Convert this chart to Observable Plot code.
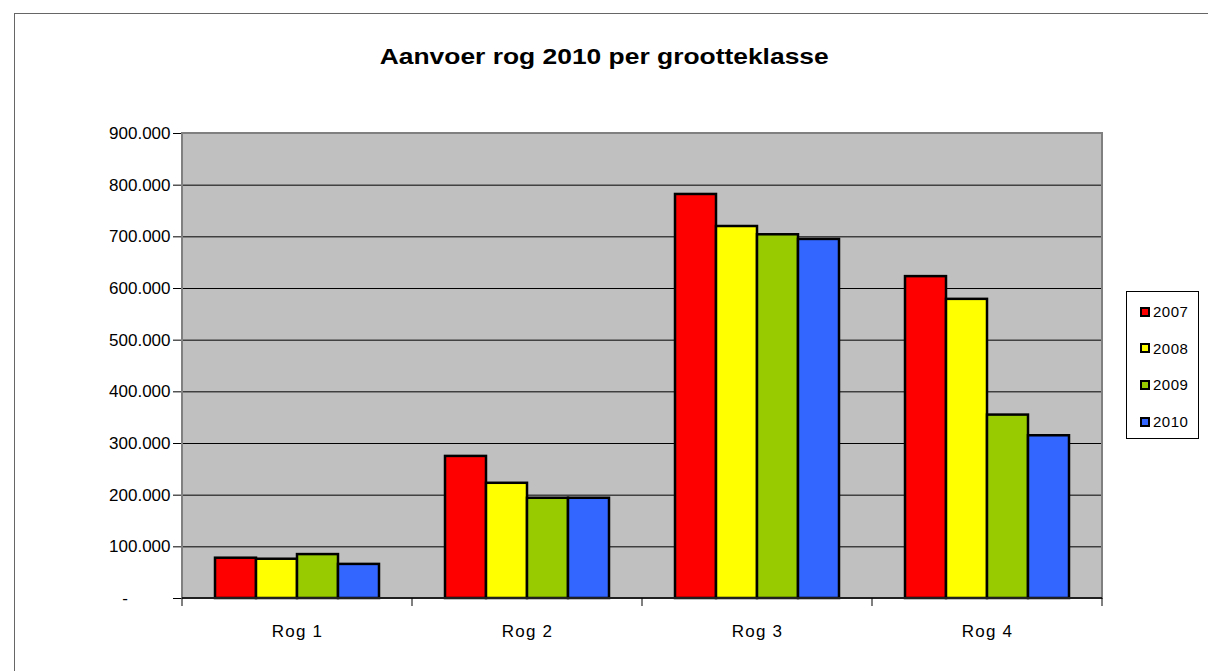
<!DOCTYPE html>
<html>
<head>
<meta charset="utf-8">
<script src="https://cdn.jsdelivr.net/npm/d3@7"></script>
<script src="https://cdn.jsdelivr.net/npm/@observablehq/plot@0.6"></script>
<style>
  html, body { margin: 0; padding: 0; background: #fff; }
  #wrap { position: relative; width: 1208px; height: 671px; overflow: hidden; font-family: Arial, "Liberation Sans", sans-serif; }
  #outer { position: absolute; left: 14px; top: 13px; width: 1300px; height: 800px; border-left: 1px solid #666; border-top: 1px solid #666; }
  #title { position: absolute; left: 0; width: 1208px; top: 44px; text-align: center; font-weight: bold; font-size: 22px; color: #000; transform: scaleX(1.2); transform-origin: 603px 0; }
  #chart { position: absolute; left: 0; top: 0; }
  #legend { position: absolute; left: 1126px; top: 291px; width: 73px; height: 148px; border: 1px solid #000; background: #fff; box-sizing: border-box; }
  .item { position: absolute; left: 13px; font-size: 15px; line-height: 15px; color: #000; display: flex; align-items: center; letter-spacing: 0.5px; }
  .sw { width: 6px; height: 6px; border: 2px solid #000; margin-right: 3px; }
  g[aria-label="fx-axis tick label"] text { letter-spacing: 1.2px; font-size: 17px; }
  g[aria-label="y-axis tick label"] text { font-size: 17px; }
</style>
</head>
<body>
<div id="wrap">
  <div id="outer"></div>
  <div id="chart"></div>
  <div id="title">Aanvoer rog 2010 per grootteklasse</div>
  <div id="legend"></div>
</div>
<script>
const categories = ["Rog 1", "Rog 2", "Rog 3", "Rog 4"];
const years = ["2007", "2008", "2009", "2010"];
const colors = ["#ff0000", "#ffff00", "#99cc00", "#3366ff"];
const values2007 = [78000, 275000, 782000, 623000];
const values2008 = [76000, 223000, 720000, 579000];
const values2009 = [85000, 194000, 704000, 355000];
const values2010 = [66000, 194000, 695000, 315000];
const yTicks = [0, 100000, 200000, 300000, 400000, 500000, 600000, 700000, 800000, 900000];

const series = [values2007, values2008, values2009, values2010];
const data = [];
categories.forEach((c, i) => years.forEach((y, j) => data.push({cat: c, year: y, value: series[j][i]})));

const fmt = d => d === 0 ? "-\u2007\u2007\u2007\u2007\u2008" : d3.format(",")(d).replace(/,/g, ".");

const plot = Plot.plot({
  width: 1208,
  height: 671,
  marginLeft: 182,
  marginRight: 106,
  marginTop: 133,
  marginBottom: 73,
  style: {fontFamily: "Arial, 'Liberation Sans', sans-serif", fontSize: "16px", color: "#000", background: "transparent"},
  fx: {domain: categories, padding: 0, label: null},
  x: {domain: years, axis: null, paddingInner: 0, paddingOuter: 0.79},
  y: {domain: [0, 900000], label: null},
  color: {domain: years, range: colors},
  marks: [
    Plot.gridY(yTicks, {stroke: "#000", strokeOpacity: 1, strokeWidth: 1}),
    Plot.barY(data, {fx: "cat", x: "year", y: "value", fill: "year", stroke: "#000", strokeWidth: 2.5}),
    Plot.axisY(yTicks, {tickSize: 9, tickPadding: 3, tickFormat: fmt, label: null, fill: "#000", stroke: "#000"}),
    Plot.axisFx({anchor: "bottom", tickSize: 0, tickPadding: 26, label: null, fill: "#000"})
  ]
});

// decorations derived from the library's scales
const fx = plot.scale("fx");
const ys = plot.scale("y");
const svg = d3.select(plot);
const x0 = fx.range[0], x1 = fx.range[1];
const yTop = ys.apply(900000), yBot = ys.apply(0);
svg.insert("rect", ":first-child").attr("x", x0).attr("y", yTop).attr("width", x1 - x0).attr("height", yBot - yTop)
  .attr("fill", "#c0c0c0");
svg.append("rect").attr("x", x0).attr("y", yTop).attr("width", x1 - x0).attr("height", yBot - yTop)
  .attr("fill", "none").attr("stroke", "#808080").attr("stroke-width", 2);
svg.append("line").attr("x1", x0).attr("x2", x1).attr("y1", yBot).attr("y2", yBot)
  .attr("stroke", "#000").attr("stroke-width", 1.5);
const bounds = categories.map(c => fx.apply(c)).concat([fx.apply(categories[categories.length - 1]) + fx.bandwidth]);
bounds.forEach(b => svg.append("line").attr("x1", b).attr("x2", b).attr("y1", yBot).attr("y2", yBot + 8)
  .attr("stroke", "#000").attr("stroke-width", 1));

document.getElementById("chart").appendChild(plot);

const legend = document.getElementById("legend");
years.forEach((y, i) => {
  const it = document.createElement("div");
  it.className = "item";
  it.style.top = (12 + i * 36.7) + "px";
  const sw = document.createElement("div");
  sw.className = "sw";
  sw.style.background = colors[i];
  it.appendChild(sw);
  const t = document.createElement("span");
  t.textContent = y;
  it.appendChild(t);
  legend.appendChild(it);
});
</script>
</body>
</html>
